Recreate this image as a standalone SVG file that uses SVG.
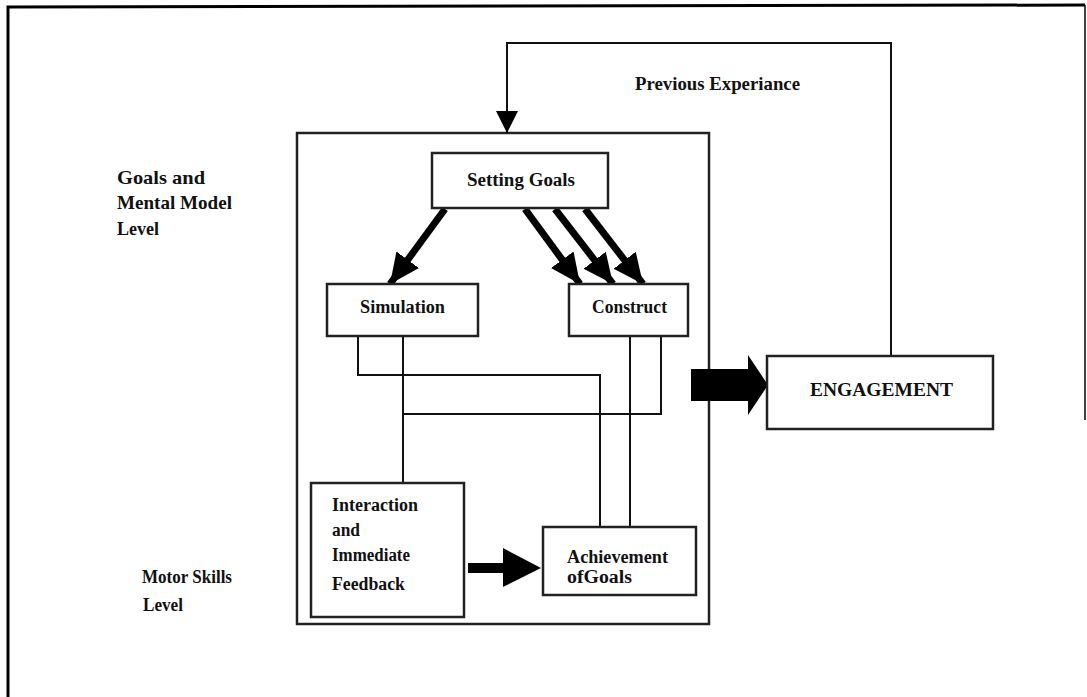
<svg xmlns="http://www.w3.org/2000/svg" width="1087" height="697" viewBox="0 0 1087 697">
<defs>
<style>
text{font-family:"Liberation Serif","Times New Roman",serif;font-weight:bold;fill:#111;}
.lbl{font-size:19px;}
.nt{font-size:18px;}
.box{fill:#fff;stroke:#222;stroke-width:2.5;}
.conn{fill:none;stroke:#111;stroke-width:2;}
.thick{fill:none;stroke:#000;stroke-width:7;}
</style>
<marker id="bigHead" markerUnits="userSpaceOnUse" markerWidth="32" markerHeight="32" viewBox="0 0 32 32" refX="30" refY="16" orient="auto">
<path d="M0,2 L30,16 L0,30 Z" fill="#000"/>
</marker>
<marker id="smallHead" markerUnits="userSpaceOnUse" markerWidth="24" markerHeight="24" viewBox="0 0 24 24" refX="22" refY="12" orient="auto">
<path d="M0,1 L22,12 L0,23 Z" fill="#000"/>
</marker>
</defs>
<rect width="1087" height="697" fill="#fff"/>
<g id="frame">
<path d="M8,697 L8,7 L1085,5" fill="none" stroke="#000" stroke-width="3"/>
<line x1="1085" y1="5" x2="1085" y2="420" stroke="#000" stroke-width="1.5"/>
</g>
<g id="labels">
<text class="lbl" x="117" y="184" textLength="88" lengthAdjust="spacingAndGlyphs">Goals and</text>
<text class="lbl" x="117" y="209" textLength="115" lengthAdjust="spacingAndGlyphs">Mental Model</text>
<text class="lbl" x="117" y="235" textLength="42" lengthAdjust="spacingAndGlyphs">Level</text>
<text class="lbl" x="142" y="583" textLength="90" lengthAdjust="spacingAndGlyphs">Motor Skills</text>
<text class="lbl" x="143" y="611" textLength="40" lengthAdjust="spacingAndGlyphs">Level</text>
<text class="lbl" x="635" y="90" textLength="165" lengthAdjust="spacingAndGlyphs">Previous Experiance</text>
</g>
<g id="mainBox">
<rect x="297" y="133" width="412" height="491" fill="none" stroke="#222" stroke-width="2.5"/>
</g>
<g id="connectors">
<path class="conn" d="M358,336 L358,375 L600,375 L600,527"/>
<path class="conn" d="M403,336 L403,483"/>
<path class="conn" d="M403,414 L661,414 L661,336"/>
<path class="conn" d="M630,336 L630,527"/>
<path class="conn" d="M891,356 L891,43 L507,43 L507,133" marker-end="url(#smallHead)"/>
<line class="thick" x1="445" y1="209" x2="390" y2="284" marker-end="url(#bigHead)"/>
<line class="thick" x1="525" y1="209" x2="580" y2="284" marker-end="url(#bigHead)"/>
<line class="thick" x1="555" y1="209" x2="613" y2="284" marker-end="url(#bigHead)"/>
<line class="thick" x1="585" y1="209" x2="643" y2="284" marker-end="url(#bigHead)"/>
<path d="M468,563 L503,563 L503,548 L541,568 L503,587 L503,573 L468,573 Z" fill="#000"/>
<path d="M691,369 L748,369 L748,355 L768,385 L748,415 L748,401 L691,401 Z" fill="#000"/>
</g>
<g id="settingGoals">
<rect class="box" x="432" y="153" width="176" height="55"/>
<text class="nt" x="467" y="186" textLength="108" lengthAdjust="spacingAndGlyphs">Setting Goals</text>
</g>
<g id="simulation">
<rect class="box" x="327" y="284" width="151" height="52"/>
<text class="nt" x="360" y="313" textLength="85" lengthAdjust="spacingAndGlyphs">Simulation</text>
</g>
<g id="construct">
<rect class="box" x="569" y="284" width="119" height="52"/>
<text class="nt" x="592" y="313" textLength="75" lengthAdjust="spacingAndGlyphs">Construct</text>
</g>
<g id="interaction">
<rect class="box" x="311" y="483" width="153" height="134"/>
<text class="nt" x="332" y="511" textLength="86" lengthAdjust="spacingAndGlyphs">Interaction</text>
<text class="nt" x="332" y="536" textLength="28" lengthAdjust="spacingAndGlyphs">and</text>
<text class="nt" x="332" y="561" textLength="78" lengthAdjust="spacingAndGlyphs">Immediate</text>
<text class="nt" x="332" y="590" textLength="73" lengthAdjust="spacingAndGlyphs">Feedback</text>
</g>
<g id="achievement">
<rect class="box" x="543" y="527" width="153" height="68"/>
<text class="nt" x="567" y="563" textLength="101" lengthAdjust="spacingAndGlyphs">Achievement</text>
<text class="nt" x="567" y="583" textLength="65" lengthAdjust="spacingAndGlyphs">ofGoals</text>
</g>
<g id="engagement">
<rect class="box" x="767" y="356" width="226" height="73"/>
<text class="nt" x="810" y="396" textLength="143" lengthAdjust="spacingAndGlyphs">ENGAGEMENT</text>
</g>
</svg>
